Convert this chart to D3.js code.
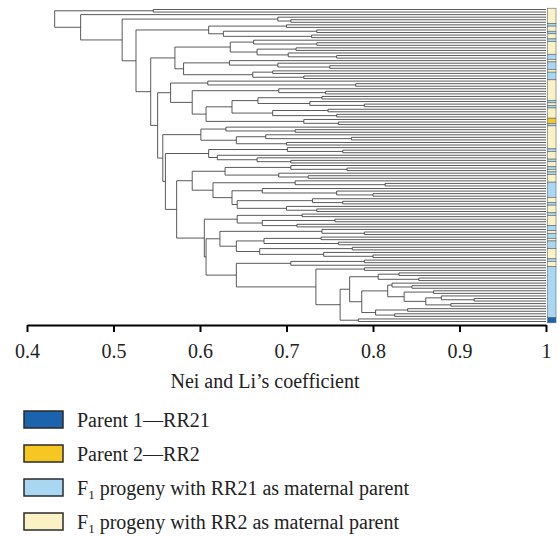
<!DOCTYPE html>
<html>
<head>
<meta charset="utf-8">
<script src="https://cdn.jsdelivr.net/npm/d3@7"></script>
<style>
  body { margin: 0; background: #fff; }
  svg { display: block; font-family: "Liberation Serif", "DejaVu Serif", serif; }
</style>
</head>
<body>
<svg id="chart" width="560" height="536"></svg>
<script>
// axis + legend text
const axisTicks = [0.4, 0.5, 0.6, 0.7, 0.8, 0.9, 1];
const axisTitle = "Nei and Li\u2019s coefficient";
const groupLabels = ["Parent 1\u2014RR21", "Parent 2\u2014RR2",
                     "F1 progeny with RR21 as maternal parent",
                     "F1 progeny with RR2 as maternal parent"];
const groupColors = ["#1b63ad", "#f6c623", "#a9d7f1", "#faf2c5"];

// group of each genotype, top to bottom, as runs of [group, count]
const groupRuns = [[3,6],[2,1],[3,2],[2,1],[3,2],[2,1],[3,5],[2,2],[3,1],[2,3],[3,1],[2,3],
                   [3,8],[2,1],[3,1],[2,1],[3,4],[1,2],[2,1],[3,9],[2,1],[3,3],[2,1],[3,2],
                   [2,1],[3,1],[2,1],[3,3],[2,6],[3,2],[2,1],[3,3],[2,1],[3,4],[2,2],[3,1],
                   [2,2],[3,1],[2,3],[3,4],[2,1],[3,2],[2,20],[0,2]];

// clades: [similarity, upper child, lower child], 0 = one genotype
const topPair = [0.546, 0, 0];
const cladeC = [0.690, 0, [0.705, 0, 0]];
const cladeD = [0.610, [0.700, 0, 0], [0.627, [0.735, 0, 0], [0.729, 0, 0]]];
const cladeE = [0.571,
                [0.635, [0.662, 0, [0.735, 0, 0]], [0.666, [0.711, 0, 0], [0.702, 0, [0.758, 0, 0]]]],
                [0.581, [0.634, 0, [0.690, 0, [0.750, 0, 0]]], [0.661, [0.684, 0, 0], [0.720, 0, 0]]]];
const cladeF = [0.566,
                [0.609, 0, [0.780, 0, 0]],
                [0.591, [0.691, 0, [0.745, 0, 0]],
                        [0.607, [0.637, [0.667, [0.741, 0, 0], [0.727, 0, [0.790, 0, 0]]],
                                        [0.684, [0.748, 0, 0], [0.758, 0, 0]]],
                                [0.720, 0, [0.760, 0, 0]]]]];
const cladeG = [0.601, [0.630, 0, [0.710, 0, 0]], [0.642, [0.676, 0, [0.775, 0, 0]], [0.700, 0, 0]]];
const cladeH = [0.610, [0.701, 0, [0.765, 0, 0]], [0.620, 0, [0.666, 0, [0.705, 0, 0]]]];
const cladeI = [0.591,
                [0.629, [0.705, 0, [0.770, 0, 0]], [0.691, 0, [0.725, 0, 0]]],
                [0.615, [0.710, 0, [0.814, 0, 0]],
                        [0.637, [0.672, 0, [0.758, 0, [0.800, 0, 0]]],
                                [0.643, [0.730, 0, [0.765, 0, 0]], [0.700, 0, [0.735, 0, 0]]]]]];
const cladeJ = [0.643, [0.718, 0, 0], [0.672, [0.756, 0, 0], [0.712, 0, 0]]];
const cladeK = [0.623, [0.741, 0, [0.790, 0, 0]],
                [0.642, [0.674, [0.740, 0, 0], [0.760, 0, 0]], [0.669, [0.776, 0, 0], [0.743, 0, [0.800, 0, 0]]]]];
const cladeL = [0.705, [0.790, 0, 0], 0];
const cladeM2 = [0.817, [0.822, 0, [0.845, 0, 0]],
                 [0.836, [0.870, 0, 0], [0.861, [0.879, 0, [0.917, 0, 0]], [0.890, 0, 0]]]];
const cladeM = [0.734, [0.790, 0, 0],
                [0.762, [0.773, [0.806, [0.830, 0, 0], [0.853, 0, 0]],
                                [0.787, cladeM2, [0.803, [0.840, 0, 0], [0.825, 0, 0]]]],
                        [0.783, 0, 0]]];

// backbone joining the clades
const tree = [0.432, topPair,
  [0.462, 0,
    [0.510, cladeC,
      [0.526, cladeD,
        [0.543, cladeE,
          [0.551, cladeF,
            [0.557, cladeG,
              [0.560, cladeH,
                [0.573, cladeI,
                  [0.605, cladeJ,
                    [0.607, cladeK,
                      [0.642, cladeL, cladeM]]]]]]]]]]]];

var svg = d3.select("#chart");

var root = d3.hierarchy(tree, d => Array.isArray(d) ? d.slice(1) : null);
var leaves = root.leaves();
leaves.forEach((d, i) => d.idx = i);
var N = leaves.length;

var x = d3.scaleLinear().domain([0.4, 1]).range([27, 546]);
var y = d3.scaleLinear().domain([0, N - 1]).range([9.5, 321.5]);
var step = y(1) - y(0);

// node positions: leaves at 1.0, joins at their similarity, y = middle of children
root.eachAfter(d => {
    if (d.children) {
        d.px = x(d.data[0]);
        d.py = (d.children[0].py + d.children[d.children.length - 1].py) / 2;
    } else {
        d.px = x(1);
        d.py = y(d.idx);
    }
});

var tree_g = svg.append("g")
    .attr("stroke", "#3c3c3c")
    .attr("stroke-width", 0.85)
    .attr("fill", "none");

// horizontal branches
tree_g.selectAll("line.h")
    .data(root.links())
    .enter()
    .append("line")
    .attr("class", "h")
    .attr("x1", d => d.source.px)
    .attr("x2", d => d.target.px)
    .attr("y1", d => d.target.py)
    .attr("y2", d => d.target.py);

// vertical joins
tree_g.selectAll("line.v")
    .data(root.descendants().filter(d => d.children))
    .enter()
    .append("line")
    .attr("class", "v")
    .attr("x1", d => d.px)
    .attr("x2", d => d.px)
    .attr("y1", d => d.children[0].py)
    .attr("y2", d => d.children[d.children.length - 1].py);

// colour strip on the right
var runs = [];
var start = 0;
groupRuns.forEach(r => {
    runs.push({ g: r[0], from: start, to: start + r[1] - 1 });
    start += r[1];
});

svg.append("g")
    .selectAll("rect")
    .data(runs)
    .enter()
    .append("rect")
    .attr("x", 547.5)
    .attr("width", 8.5)
    .attr("y", d => y(d.from) - step / 2)
    .attr("height", d => y(d.to) - y(d.from) + step)
    .attr("fill", d => groupColors[d.g])
    .attr("stroke", "#5a6670")
    .attr("stroke-width", 0.6);

// axis
var axis = svg.append("g")
    .attr("transform", "translate(0,325)")
    .call(d3.axisBottom(x)
        .tickValues(axisTicks)
        .tickSize(7)
        .tickSizeOuter(0)
        .tickFormat(d3.format("")));

axis.select(".domain").attr("stroke", "#000").attr("stroke-width", 2);
axis.selectAll(".tick line").attr("stroke", "#000").attr("stroke-width", 2);
axis.selectAll(".tick text")
    .attr("y", 19)
    .attr("fill", "#222")
    .style("font-family", "Liberation Serif, serif")
    .style("font-size", "20px");

svg.append("text")
    .attr("x", 265)
    .attr("y", 388)
    .attr("text-anchor", "middle")
    .style("font-size", "20px")
    .attr("fill", "#222")
    .text(axisTitle);

// legend
var legend = svg.append("g")
    .selectAll("g")
    .data(groupLabels)
    .enter()
    .append("g")
    .attr("transform", (d, i) => "translate(24," + (411 + i * 34) + ")");

legend.append("rect")
    .attr("width", 39)
    .attr("height", 17)
    .attr("fill", (d, i) => groupColors[i])
    .attr("stroke", "#2a2a2a")
    .attr("stroke-width", 1.5);

legend.each(function (d) {
    var t = d3.select(this).append("text")
        .attr("x", 53)
        .attr("y", 16)
        .attr("fill", "#222")
        .style("font-size", "20px");
    if (d.startsWith("F1")) {
        t.append("tspan").text("F");
        t.append("tspan").attr("dy", 4).style("font-size", "13px").text("1");
        t.append("tspan").attr("dy", -4).text(d.slice(2));
    } else {
        t.text(d);
    }
});
</script>
</body>
</html>
